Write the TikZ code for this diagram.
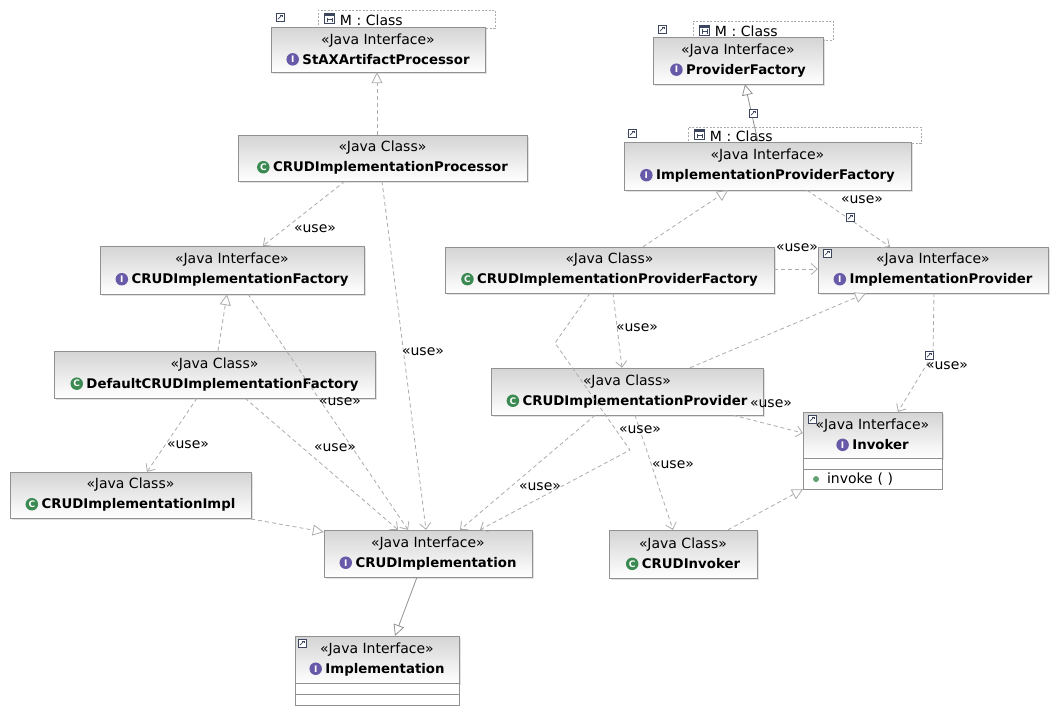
\documentclass[tikz,border=0pt]{standalone}
\usepackage{fontspec}
\setmainfont{DejaVu Sans}
\usetikzlibrary{arrows.meta,shadows}
\definecolor{boxline}{RGB}{145,145,145}
\definecolor{boxtop}{RGB}{212,212,212}
\definecolor{linegray}{RGB}{172,172,172}
\definecolor{ifacecol}{RGB}{104,90,168}
\definecolor{classcol}{RGB}{58,138,82}
\definecolor{icoline}{RGB}{60,70,95}
\newcommand\ifaceicon{\tikz[baseline=-4.7pt]\node[circle,fill=ifacecol,text=white,inner sep=0pt,minimum size=12.5pt,font=\fontsize{9}{9}\selectfont\bfseries]{I};\hspace{3.5pt}}
\newcommand\classicon{\tikz[baseline=-4.7pt]\node[circle,fill=classcol,text=white,inner sep=0pt,minimum size=12.5pt,font=\fontsize{9}{9}\selectfont\bfseries]{C};\hspace{3.5pt}}
\newcommand\tabicon{\tikz[baseline=-1.5pt]{\draw[icoline,fill=white,line width=0.6pt] (0pt,0pt) rectangle (10pt,10pt); \fill[icoline] (0pt,7.5pt) rectangle (10pt,10pt); \draw[icoline,line width=0.5pt] (2.5pt,1.5pt) -- (2.5pt,6pt) (7.5pt,1.5pt) -- (7.5pt,6pt) (2.5pt,3.8pt) -- (7.5pt,3.8pt);}\hspace{5pt}}
\newcommand\opdot{\tikz[baseline=-4.5pt]\fill[classcol!80] (0pt,0pt) circle[radius=3pt];\hspace{8pt}}
\newcommand\cname[1]{{\bfseries\fontsize{13.3}{20}\selectfont#1}}

\begin{document}
\begin{tikzpicture}[x=1pt,y=-1pt,
  box/.style={draw=boxline,top color=boxtop,bottom color=white,align=center,inner sep=0pt,font=\fontsize{14}{20}\selectfont,drop shadow={shadow xshift=1.5pt,shadow yshift=-1.5pt,fill=black!22}},
  cell/.style={draw=boxline,fill=white,inner sep=0pt,outer sep=0pt,anchor=north,font=\fontsize{14}{16}\selectfont},
  tab/.style={draw=linegray,dash pattern=on 2pt off 1.5pt,fill=white,inner xsep=6pt,inner ysep=0pt,anchor=north west,align=left,font=\fontsize{14}{16}\selectfont},
  lbl/.style={font=\fontsize{14}{16}\selectfont,inner sep=1pt},
  use/.style={draw=linegray,line width=0.8pt,dash pattern=on 4pt off 3pt,-{Straight Barb[length=6pt,width=11pt]}},
  real/.style={draw=linegray,line width=0.8pt,dash pattern=on 4pt off 3pt,-{Triangle[open,length=11pt,width=11pt,fill=white]}},
  ext/.style={draw=linegray!85!black,line width=0.8pt,-{Triangle[open,length=11pt,width=11pt,fill=white]}},
  linkico/.pic={\draw[icoline,fill=white,line width=0.6pt] (-4,-4) rectangle (4,4);
    \draw[icoline,line width=0.7pt,-{Straight Barb[length=1.5pt,width=3pt]}] (-2.2,2.2) -- (2.2,-2.2);}]
\useasboundingbox (0,0) rectangle (1063,718);
\fill[white] (0,0) rectangle (1063,718);
\node[tab,minimum width=177pt,minimum height=18pt,text width=165pt] (staxtab) at (318,10) {\tabicon M : Class};
\node[tab,minimum width=140pt,minimum height=19pt,text width=128pt] (pftab) at (693,21) {\tabicon M : Class};
\node[tab,minimum width=233pt,minimum height=16pt,text width=221pt] (ipftab) at (688,127) {\tabicon M : Class};
\node[box,minimum width=214pt,minimum height=45pt] (stax) at (378,49.5) {«Java Interface»\\\ifaceicon\cname{StAXArtifactProcessor}};
\node[box,minimum width=289pt,minimum height=46pt] (proc) at (382.5,158) {«Java Class»\\\classicon\cname{CRUDImplementationProcessor}};
\node[box,minimum width=264pt,minimum height=48pt] (cif) at (232,270) {«Java Interface»\\\ifaceicon\cname{CRUDImplementationFactory}};
\node[box,minimum width=321pt,minimum height=47pt] (dcif) at (214.5,374.5) {«Java Class»\\\classicon\cname{DefaultCRUDImplementationFactory}};
\node[box,minimum width=241pt,minimum height=46pt] (cii) at (130.5,495) {«Java Class»\\\classicon\cname{CRUDImplementationImpl}};
\node[box,minimum width=208pt,minimum height=47pt] (ci) at (428,553.5) {«Java Interface»\\\ifaceicon\cname{CRUDImplementation}};
\node[box,minimum width=164pt,minimum height=47pt] (impl) at (377,659.5) {«Java Interface»\\\ifaceicon\cname{Implementation}};
\node[cell,minimum width=164pt,minimum height=11pt] (implattr) at (impl.south) {};
\node[cell,minimum width=164pt,minimum height=11pt] (implops) at (implattr.south) {};
\node[box,minimum width=170pt,minimum height=47pt] (pf) at (738,60.5) {«Java Interface»\\\ifaceicon\cname{ProviderFactory}};
\node[box,minimum width=287pt,minimum height=48pt] (ipf) at (767.5,166) {«Java Interface»\\\ifaceicon\cname{ImplementationProviderFactory}};
\node[box,minimum width=329pt,minimum height=46pt] (cipf) at (609.5,270) {«Java Class»\\\classicon\cname{CRUDImplementationProviderFactory}};
\node[box,minimum width=230pt,minimum height=46pt] (ip) at (933,270) {«Java Interface»\\\ifaceicon\cname{ImplementationProvider}};
\node[box,minimum width=272pt,minimum height=47pt] (cip) at (627,391.5) {«Java Class»\\\classicon\cname{CRUDImplementationProvider}};
\node[box,minimum width=139pt,minimum height=46pt] (inv) at (872.5,435) {«Java Interface»\\\ifaceicon\cname{Invoker}};
\node[cell,minimum width=139pt,minimum height=11pt] (invattr) at (inv.south) {};
\node[cell,minimum width=139pt,minimum height=20pt,text width=119pt,inner xsep=10pt,align=left] (invops) at (invattr.south) {\opdot invoke ( )};
\node[box,minimum width=148pt,minimum height=48pt] (cinv) at (683,554) {«Java Class»\\\classicon\cname{CRUDInvoker}};
\pic at (280,17) {linkico};
\pic at (662,29) {linkico};
\pic at (632,133) {linkico};
\pic at (827,253) {linkico};
\pic at (812,419) {linkico};
\pic at (302,643) {linkico};
\draw[real] (proc.north -| 377,0) -- (stax.south -| 377,0);
\draw[use] (proc.south -| 345,0) -- (cif.north -| 263,0) node[lbl] (u1) at (315,229) {«use»};
\draw[use] (proc.south -| 382,0) -- (ci.north -| 426,0) node[lbl] (u2) at (423,352) {«use»};
\draw[real] (dcif.north -| 218,0) -- (cif.south -| 227,0);
\draw[use] (cif.south -| 248,0) -- (ci.north -| 408,0) node[lbl] (u3) at (340,402) {«use»};
\draw[use] (dcif.south -| 197,0) -- (cii.north -| 147,0) node[lbl] (u4) at (188,445) {«use»};
\draw[use] (dcif.south -| 245,0) -- (ci.north -| 398,0) node[lbl] (u5) at (335,448) {«use»};
\draw[real] (cii.east |- 0,519) -- (ci.west |- 0,532);
\draw[ext] (ci.south -| 417,0) -- (impl.north -| 395,0);
\draw[ext] (ipf.north -| 758,0) -- (pf.south -| 745,0);
\draw[real] (cipf.north -| 643,0) -- (ipf.south -| 728,0);
\draw[use] (ipf.south -| 807,0) -- (ip.north -| 890,0) node[lbl] (u6) at (862,200) {«use»};
\draw[use] (cipf.east |- 0,269) -- (ip.west |- 0,269) node[lbl] (u7) at (797,248) {«use»};
\draw[use] (cipf.south -| 613,0) -- (cip.north -| 622,0) node[lbl] (u8) at (637,328) {«use»};
\draw[real] (cip.north -| 690,0) -- (ip.south -| 866,0);
\draw[use] (ip.south -| 934,0) -- (933,354) -- (inv.north -| 898,0) node[lbl] (u9) at (947,366) {«use»};
\draw[use] (cip.south -| 733,0) -- (inv.west |- 0,433) node[lbl] (u10) at (771,404) {«use»};
\draw[real] (cinv.north -| 728,0) -- (invops.south west);
\draw[use] (cip.south -| 635,0) -- (cinv.north -| 673,0) node[lbl] (u11) at (673,465) {«use»};
\draw[use] (cipf.south -| 590,0) -- (555,343) -- (630,450) -- (ci.north -| 480,0) node[lbl] (u12) at (540,487) {«use»};
\draw[use] (cip.south -| 595,0) -- (ci.north -| 460,0) node[lbl] (u13) at (640,430) {«use»};
\pic at (753,113) {linkico};
\pic at (850,217) {linkico};
\pic at (929,355) {linkico};
\end{tikzpicture}
\end{document}
